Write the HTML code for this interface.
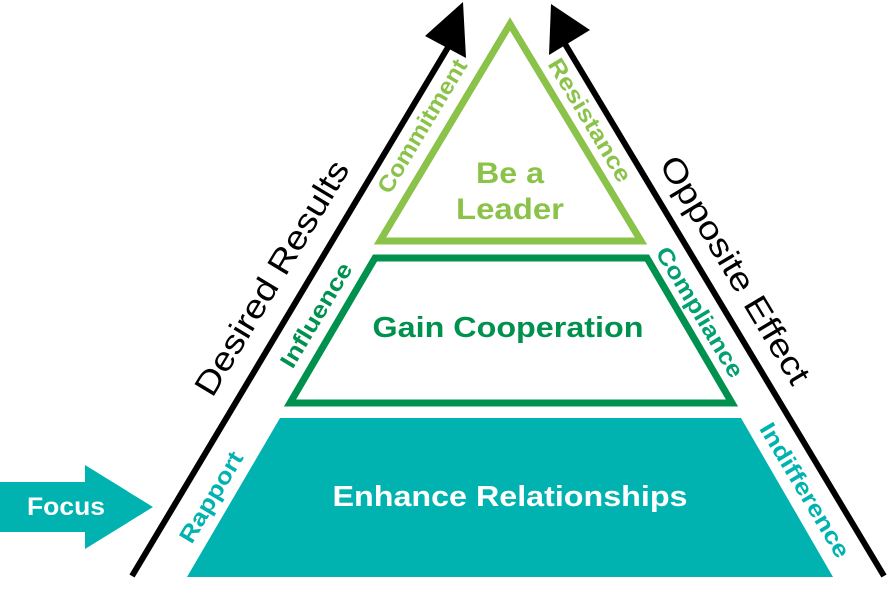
<!DOCTYPE html>
<html><head><meta charset="utf-8"><style>
html,body{margin:0;padding:0;background:#fff;}
svg text{font-family:"Liberation Sans",sans-serif;}
</style></head><body>
<svg width="887" height="603" viewBox="0 0 887 603" xmlns="http://www.w3.org/2000/svg">
<line x1="132" y1="576" x2="450" y2="44" stroke="#000" stroke-width="6"/>
<polygon points="463,2 466,58 425,36" fill="#000"/>
<line x1="884" y1="576" x2="565" y2="44" stroke="#000" stroke-width="6"/>
<polygon points="551,4 590,30 549,55" fill="#000"/>
<polygon points="510,24 380,241 641,241" fill="none" stroke="#8BC34A" stroke-width="7"/>
<polygon points="375,258 647,258 732,403 290,403" fill="none" stroke="#00914F" stroke-width="7"/>
<polygon points="280,418 741,418 833,577 187,577" fill="#00B3B0"/>
<polygon points="0,482 85,482 85,465 153,507 85,549 85,532 0,532" fill="#00B3B0"/>
<text x="66" y="515" font-size="25" font-weight="bold" fill="#fff" text-anchor="middle" textLength="78" lengthAdjust="spacingAndGlyphs">Focus</text>
<text x="510" y="183" font-size="30" font-weight="bold" fill="#8BC34A" text-anchor="middle" textLength="68" lengthAdjust="spacingAndGlyphs">Be a</text>
<text x="510" y="219" font-size="30" font-weight="bold" fill="#8BC34A" text-anchor="middle" textLength="108" lengthAdjust="spacingAndGlyphs">Leader</text>
<text x="508" y="337" font-size="29" font-weight="bold" fill="#00914F" text-anchor="middle" textLength="271" lengthAdjust="spacingAndGlyphs">Gain Cooperation</text>
<text x="510" y="506" font-size="29" font-weight="bold" fill="#fff" text-anchor="middle" textLength="355" lengthAdjust="spacingAndGlyphs">Enhance Relationships</text>
<g transform="translate(272,278) rotate(-59)"><text font-size="33" fill="#000" text-anchor="middle" dy="11" textLength="268" lengthAdjust="spacingAndGlyphs">Desired Results</text></g>
<g transform="translate(422,126) rotate(-59)"><text font-size="23" font-weight="bold" fill="#8BC34A" text-anchor="middle" dy="8" textLength="152" lengthAdjust="spacingAndGlyphs">Commitment</text></g>
<g transform="translate(316,315) rotate(-59)"><text font-size="23" font-weight="bold" fill="#00914F" text-anchor="middle" dy="8" textLength="118" lengthAdjust="spacingAndGlyphs">Influence</text></g>
<g transform="translate(211,497) rotate(-59)"><text font-size="23" font-weight="bold" fill="#00B3B0" text-anchor="middle" dy="8" textLength="102" lengthAdjust="spacingAndGlyphs">Rapport</text></g>
<g transform="translate(590,120) rotate(59)"><text font-size="23" font-weight="bold" fill="#8BC34A" text-anchor="middle" dy="8" textLength="140" lengthAdjust="spacingAndGlyphs">Resistance</text></g>
<g transform="translate(700,312) rotate(59)"><text font-size="23" font-weight="bold" fill="#00A070" text-anchor="middle" dy="8" textLength="148" lengthAdjust="spacingAndGlyphs">Compliance</text></g>
<g transform="translate(805,490) rotate(59)"><text font-size="23" font-weight="bold" fill="#00B3B0" text-anchor="middle" dy="8" textLength="153" lengthAdjust="spacingAndGlyphs">Indifference</text></g>
<g transform="translate(735,270) rotate(59)"><text font-size="33" fill="#000" text-anchor="middle" dy="11" textLength="260" lengthAdjust="spacingAndGlyphs">Opposite Effect</text></g>
</svg>
</body></html>
